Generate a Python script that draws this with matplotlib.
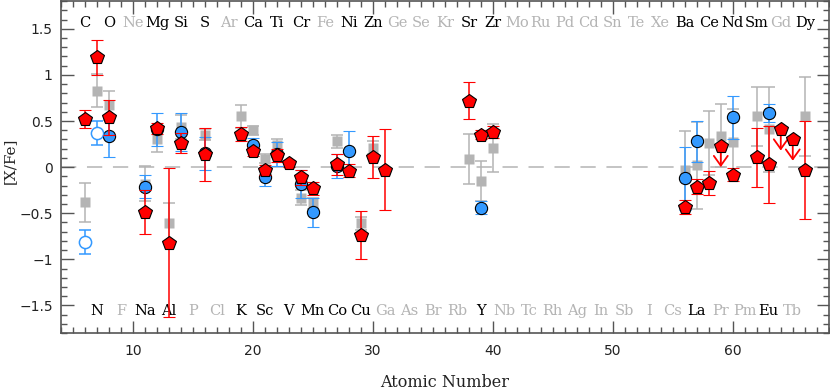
import matplotlib
matplotlib.use("Agg")
import matplotlib.pyplot as plt
from matplotlib.ticker import MultipleLocator

# element symbols for Z = 6 ... 66
symbols = ["C", "N", "O", "F", "Ne", "Na", "Mg", "Al", "Si", "P", "S", "Cl", "Ar",
           "K", "Ca", "Sc", "Ti", "V", "Cr", "Mn", "Fe", "Co", "Ni", "Cu", "Zn",
           "Ga", "Ge", "As", "Se", "Br", "Kr", "Rb", "Sr", "Y", "Zr", "Nb", "Mo",
           "Tc", "Ru", "Rh", "Pd", "Ag", "Cd", "In", "Sn", "Sb", "Te", "I", "Xe",
           "Cs", "Ba", "La", "Ce", "Pr", "Nd", "Pm", "Sm", "Eu", "Gd", "Tb", "Dy"]
first_z = 6
measured = {"C", "N", "O", "Na", "Mg", "Al", "Si", "S", "K", "Ca", "Sc", "Ti",
            "V", "Cr", "Mn", "Ni", "Co", "Cu", "Zn", "Sr", "Y", "Zr", "Ba", "La",
            "Ce", "Nd", "Sm", "Eu", "Dy"}

# gray squares
gray_z = [6, 7, 8, 11, 12, 13, 14, 16, 19, 20, 21, 22, 24, 25, 27, 29, 30,
          38, 39, 40, 56, 57, 58, 59, 60, 62, 63, 66]
gray_v = [-0.38, 0.83, 0.67, -0.18, 0.30, -0.61, 0.44, 0.35, 0.55, 0.40, 0.09,
          0.24, -0.33, -0.39, 0.28, -0.61, 0.21, 0.09, -0.15, 0.21, -0.03, 0.02,
          0.26, 0.34, 0.27, 0.55, 0.41, 0.55]
gray_e = [0.21, 0.18, 0.16, 0.19, 0.14, 0.22, 0.13, 0.06, 0.12, 0.05, 0.05,
          0.07, 0.08, 0.06, 0.07, 0.07, 0.07, 0.27, 0.22, 0.26, 0.42, 0.47,
          0.35, 0.34, 0.36, 0.32, 0.46, 0.43]

# blue circles (filled)
blue_z = [8, 11, 12, 14, 16, 20, 21, 22, 24, 25, 27, 28, 39, 56, 57, 60, 63]
blue_v = [0.34, -0.21, 0.41, 0.38, 0.15, 0.24, -0.11, 0.14, -0.18, -0.49,
          0.01, 0.18, -0.44, -0.12, 0.28, 0.54, 0.59]
blue_e = [0.23, 0.12, 0.18, 0.21, 0.18, 0.08, 0.09, 0.13, 0.15, 0.16, 0.13,
          0.21, 0.07, 0.34, 0.22, 0.23, 0.10]

# blue circles (open)
blue_open_z = [6, 7]
blue_open_v = [-0.81, 0.37]
blue_open_e = [0.13, 0.13]

# red pentagons
red_z = [6, 7, 8, 11, 12, 13, 14, 16, 19, 20, 21, 22, 23, 24, 25, 27, 28, 29,
         30, 31, 38, 39, 40, 56, 57, 58, 60, 62, 63, 66]
red_v = [0.52, 1.19, 0.54, -0.49, 0.42, -0.82, 0.26, 0.14, 0.36, 0.17, -0.03,
         0.13, 0.04, -0.11, -0.23, 0.03, -0.04, -0.74, 0.11, -0.03, 0.72, 0.35,
         0.38, -0.43, -0.21, -0.17, -0.08, 0.11, 0.03, -0.03]
red_e = [0.095, 0.19, 0.19, 0.24, 0.06, 0.81, 0.11, 0.29, 0.08, 0.05, 0.05,
         0.07, 0.04, 0.08, 0.07, 0.11, 0.07, 0.26, 0.23, 0.44, 0.20, 0.05,
         0.065, 0.075, 0.085, 0.13, 0.07, 0.32, 0.42, 0.53]

# red upper limits
lim_z = [59, 64, 65]
lim_v = [0.23, 0.41, 0.30]
lim_len = 0.23

RED = "#ff0000"
BLUE = "#3399ff"
GRAY = "#b4b4b4"
FRAME = "#555555"

fig = plt.figure(figsize=(8.3, 3.91), dpi=100)
ax = fig.add_axes([0.0735, 0.148, 0.925, 0.849])

ax.axhline(0, color=GRAY, lw=1.1, ls=(0, (10, 7)), zorder=1)

eb = dict(ls="none", elinewidth=1.1, capsize=4.6, capthick=1.1)
ax.errorbar(gray_z, gray_v, yerr=gray_e, fmt="s", color=GRAY, ms=6.5,
            mec="none", zorder=2, **eb)
ax.errorbar(blue_z, blue_v, yerr=blue_e, fmt="o", color=BLUE, ms=8.8,
            mec="black", mew=0.8, ecolor=BLUE, zorder=3, **eb)
ax.errorbar(blue_open_z, blue_open_v, yerr=blue_open_e, fmt="o", color=BLUE,
            ms=8.8, mfc="white", mec=BLUE, mew=1.1, zorder=3, **eb)
for z, v in zip(lim_z, lim_v):
    ax.annotate("", xy=(z, v - lim_len), xytext=(z, v), zorder=4,
                arrowprops=dict(arrowstyle="->,head_length=0.7,head_width=0.5",
                                color=RED, lw=1.3, shrinkA=0, shrinkB=0))
ax.errorbar(red_z, red_v, yerr=red_e, fmt="p", color=RED, ms=10.5,
            mec="black", mew=0.8, ecolor=RED, zorder=5, **eb)
ax.plot(lim_z, lim_v, "p", color=RED, ms=10.5, mec="black", mew=0.8, zorder=6)

# element labels along top and bottom
for i, sym in enumerate(symbols):
    z = first_z + i
    y = 1.56 if z % 2 == 0 else -1.565
    ax.text(z, y, sym, ha="center", va="center", fontsize=10.5,
            family="DejaVu Serif", color="black" if sym in measured else GRAY)

ax.set_xlim(4, 68)
ax.set_ylim(-1.8, 1.8)
ax.xaxis.set_major_locator(MultipleLocator(10))
ax.xaxis.set_minor_locator(MultipleLocator(1))
ax.yaxis.set_major_locator(MultipleLocator(0.5))
ax.yaxis.set_minor_locator(MultipleLocator(0.1))
ax.yaxis.set_major_formatter(plt.FuncFormatter(
    lambda v, p: "0" if abs(v) < 1e-9 else f"{v:g}".replace("-", "\u2212")))
ax.tick_params(which="both", direction="in", top=True, right=True,
               color=FRAME, labelsize=10, labelcolor="#222222")
ax.tick_params(which="major", length=9, width=1)
ax.tick_params(which="minor", length=4.5, width=1)
ax.tick_params(axis="y", pad=6)
ax.tick_params(axis="x", pad=8)
for s in ax.spines.values():
    s.set_color(FRAME)
    s.set_linewidth(1.2)

ax.set_xlabel("Atomic Number", family="DejaVu Serif", fontsize=11.5,
              color="#222222", labelpad=11)
ax.set_ylabel("[X/Fe]", family="DejaVu Serif", fontsize=11, color="#222222",
              va="center")
ax.yaxis.set_label_coords(-0.067, 0.52)

fig.savefig("out.png", dpi=100)
